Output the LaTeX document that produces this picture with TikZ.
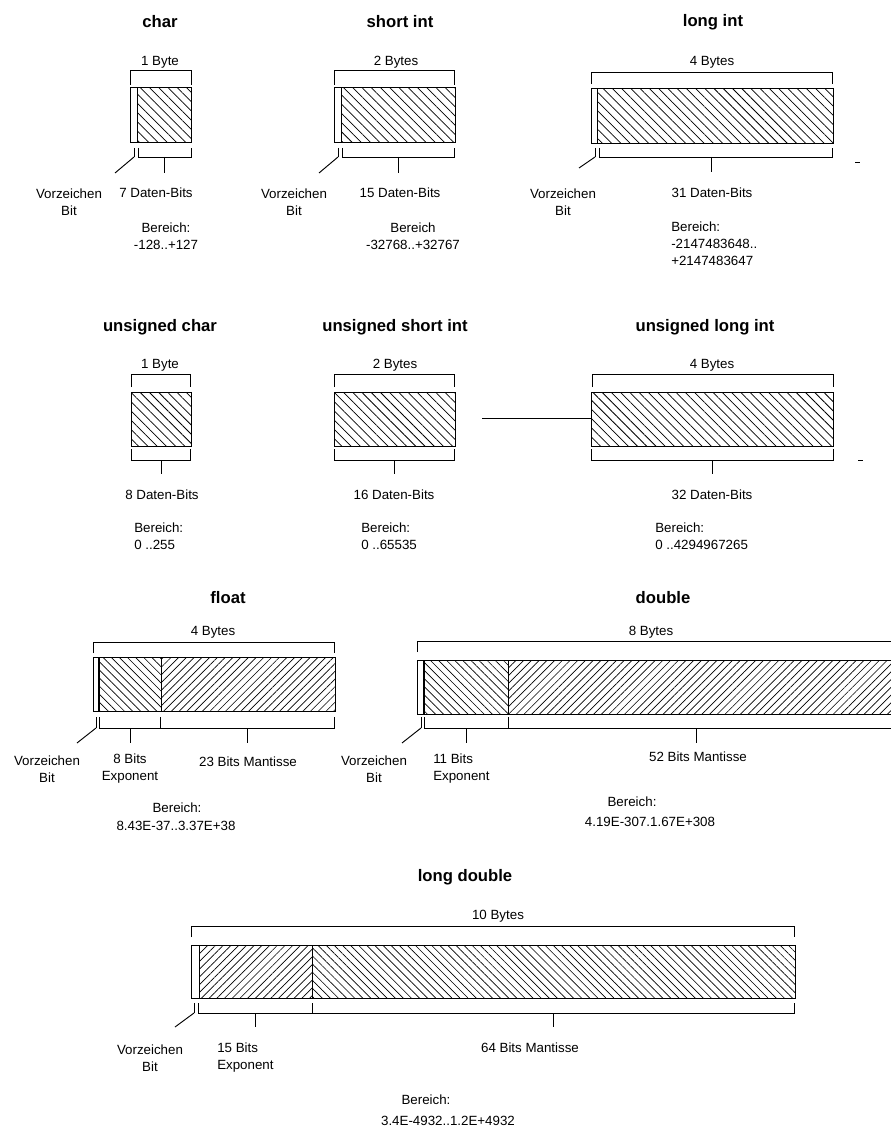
\documentclass[tikz,border=0pt]{standalone}
\usepackage{fontspec}
\setmainfont{Liberation Sans}
\usetikzlibrary{patterns.meta}
\tikzset{
  lbl/.style={inner sep=0pt, font=\fontsize{10}{12.75}\selectfont, align=center},
  lbll/.style={inner sep=0pt, font=\fontsize{10}{12.75}\selectfont, align=left, anchor=west},
  ttl/.style={inner sep=0pt, font=\fontsize{12.5}{15}\selectfont\bfseries},
  boxl/.style={draw=black, line width=0.75pt},
  br/.style={draw=black, line width=0.7pt},
  hbw/.style={pattern={Lines[angle=-45,distance=4.9pt,line width=0.55pt]}},
  hbs/.style={pattern={Lines[angle=-45,distance=4.3pt,line width=0.5pt]}},
  hfs/.style={pattern={Lines[angle=45,distance=4.1pt,line width=0.5pt]}},
  thk/.style={draw=black, line width=1.5pt},
}
\newcommand\topbr[4]{\draw[br] (#1,#4) |- (#2,#3) -- (#2,#4);}
\newcommand\botbr[4]{\draw[br] (#1,#3) |- (#2,#4) -- (#2,#3);}
\begin{document}
\begin{tikzpicture}[x=0.75pt,y=-0.75pt]
\useasboundingbox (0,0) rectangle (891,1130);
\clip (0,0) rectangle (891,1130);
% ================= char
\node[ttl] (tchar) at (160,22) {char};
\node[lbl] (bchar) at (160,62) {1 Byte};
\topbr{130}{191}{70}{85}
\fill[hbw] (137,88) rectangle (191,143);
\draw[boxl] (130,88) rectangle (191,143);
\draw[boxl] (137,88) -- (137,143);
\draw[br] (134,148) -- (134,157);
\botbr{138}{191}{148}{157}
\draw[br] (164,157) -- (164,173);
\draw[br] (134,157) -- (115,173);
\node[lbl] (vchar) at (69,202) {Vorzeichen\\Bit};
\node[lbl] (dchar) at (156,193) {7 Daten-Bits};
\node[lbl] (rchar) at (166,236) {Bereich:\\-128..+127};
% ================= short int
\node[ttl] (tshort) at (400,22) {short int};
\node[lbl] (bshort) at (396,62) {2 Bytes};
\topbr{334}{454}{70}{85}
\fill[hbw] (341,88) rectangle (455,143);
\draw[boxl] (334,88) rectangle (455,143);
\draw[boxl] (341,88) -- (341,143);
\draw[br] (338,148) -- (338,157);
\botbr{342}{454}{148}{157}
\draw[br] (398,157) -- (398,173);
\draw[br] (338,157) -- (319,173);
\node[lbl] (vshort) at (294,202) {Vorzeichen\\Bit};
\node[lbl] (dshort) at (400,193) {15 Daten-Bits};
\node[lbl] (rshort) at (413,236) {Bereich\\-32768..+32767};
% ================= long int
\node[ttl] (tlong) at (713,22) {long int};
\node[lbl] (blong) at (712,62) {4 Bytes};
\topbr{591}{832}{72}{84}
\fill[hbw] (597,89) rectangle (833,144);
\draw[boxl] (591,89) rectangle (833,144);
\draw[boxl] (597,89) -- (597,144);
\draw[br] (595,148) -- (595,157);
\botbr{599}{832}{148}{157}
\draw[br] (711,157) -- (711,172);
\draw[br] (595,157) -- (579,168);
\draw[br] (855,162) -- (860,162);
\node[lbl] (vlong) at (563,202) {Vorzeichen\\Bit};
\node[lbl] (dlong) at (712,193) {31 Daten-Bits};
\node[lbll] (rlong) at (671,244) {Bereich:\\-2147483648..\\+2147483647};
% ================= unsigned char
\node[ttl] (tuchar) at (160,327) {unsigned char};
\node[lbl] (buchar) at (160,365) {1 Byte};
\topbr{131}{190}{374}{387}
\fill[hbw] (131,392) rectangle (191,446);
\draw[boxl] (131,392) rectangle (191,446);
\botbr{131}{190}{449}{460}
\draw[br] (161,460) -- (161,474);
\node[lbl] (duchar) at (162,495) {8 Daten-Bits};
\node[lbll] (ruchar) at (134,536) {Bereich:\\0 ..255};
% ================= unsigned short int
\node[ttl] (tushort) at (395,327) {unsigned short int};
\node[lbl] (bushort) at (395,365) {2 Bytes};
\topbr{334}{454}{374}{387}
\fill[hbw] (334,392) rectangle (455,446);
\draw[boxl] (334,392) rectangle (455,446);
\botbr{334}{454}{449}{460}
\draw[br] (394,460) -- (394,474);
\node[lbl] (dushort) at (394,495) {16 Daten-Bits};
\node[lbll] (rushort) at (361,536) {Bereich:\\0 ..65535};
% ================= unsigned long int
\node[ttl] (tulong) at (705,327) {unsigned long int};
\node[lbl] (bulong) at (712,365) {4 Bytes};
\topbr{592}{833}{374}{387}
\fill[hbw] (591,392) rectangle (833,446);
\draw[boxl] (591,392) rectangle (833,446);
\coordinate (lnstart) at (482,418);
\coordinate (ulbox) at (591,418);
\draw[br] (lnstart) -- (ulbox);
\botbr{591}{833}{449}{460}
\draw[br] (712,460) -- (712,474);
\draw[br] (858,460) -- (863,460);
\node[lbl] (dulong) at (712,495) {32 Daten-Bits};
\node[lbll] (rulong) at (655,536) {Bereich:\\0 ..4294967265};
% ================= float
\node[ttl] (tfloat) at (228,598) {float};
\node[lbl] (bfloat) at (213,632) {4 Bytes};
\topbr{93}{334}{642}{653}
\fill[hbs] (99,657) rectangle (161,711);
\fill[hfs] (161,657) rectangle (335,711);
\draw[boxl] (93,657) rectangle (335,711);
\draw[boxl] (161,657) -- (161,711);
\draw[thk] (99,657) -- (99,711);
\draw[br] (96,717) -- (96,728);
\botbr{99}{160}{717}{728}
\draw[br] (160,728) -- (334,728) -- (334,717);
\draw[br] (130,728) -- (130,743);
\draw[br] (247,728) -- (247,743);
\draw[br] (96,728) -- (77,743);
\node[lbl] (vfloat) at (47,769) {Vorzeichen\\Bit};
\node[lbl] (efloat) at (130,769) {8 Bits\\Exponent};
\node[lbl] (mfloat) at (248,762) {23 Bits Mantisse};
\node[lbl] (rfloat1) at (177,808) {Bereich:};
\node[lbl] (rfloat2) at (176,826) {8.43E-37..3.37E+38};
% ================= double
\node[ttl] (tdouble) at (663,598) {double};
\node[lbl] (bdouble) at (651,632) {8 Bytes};
\topbr{417}{897}{641}{652}
\fill[hbs] (424,660) rectangle (508,714);
\fill[hfs] (508,660) rectangle (900,714);
\draw[boxl] (417,660) rectangle (900,714);
\draw[boxl] (508,660) -- (508,714);
\draw[thk] (424,660) -- (424,714);
\draw[br] (421,717) -- (421,728);
\botbr{424}{508}{717}{728}
\draw[br] (508,728) -- (897,728) -- (897,717);
\draw[br] (466,728) -- (466,743);
\draw[br] (696,728) -- (696,743);
\draw[br] (421,728) -- (402,743);
\node[lbl] (vdouble) at (374,769) {Vorzeichen\\Bit};
\node[lbll] (edouble) at (433,769) {11 Bits\\Exponent};
\node[lbl] (mdouble) at (698,757) {52 Bits Mantisse};
\node[lbl] (rdouble1) at (632,802) {Bereich:};
\node[lbl] (rdouble2) at (650,822) {4.19E-307.1.67E+308};
% ================= long double
\node[ttl] (tldouble) at (465,877) {long double};
\node[lbl] (bldouble) at (498,916) {10 Bytes};
\topbr{191}{794}{926}{937}
\fill[hfs] (199,945) rectangle (312,998);
\fill[hbs] (312,945) rectangle (795,998);
\draw[boxl] (191,945) rectangle (795,998);
\draw[boxl] (199,945) -- (199,998);
\draw[boxl] (312,945) -- (312,998);
\draw[br] (194,1003) -- (194,1013);
\botbr{198}{312}{1003}{1013}
\draw[br] (312,1013) -- (794,1013) -- (794,1003);
\draw[br] (255,1013) -- (255,1027);
\draw[br] (553,1013) -- (553,1027);
\draw[br] (194,1013) -- (175,1027);
\node[lbl] (vldouble) at (150,1058) {Vorzeichen\\Bit};
\node[lbll] (eldouble) at (217,1058) {15 Bits\\Exponent};
\node[lbl] (mldouble) at (530,1048) {64 Bits Mantisse};
\node[lbl] (rldouble1) at (426,1100) {Bereich:};
\node[lbl] (rldouble2) at (448,1121) {3.4E-4932..1.2E+4932};
\end{tikzpicture}
\end{document}
